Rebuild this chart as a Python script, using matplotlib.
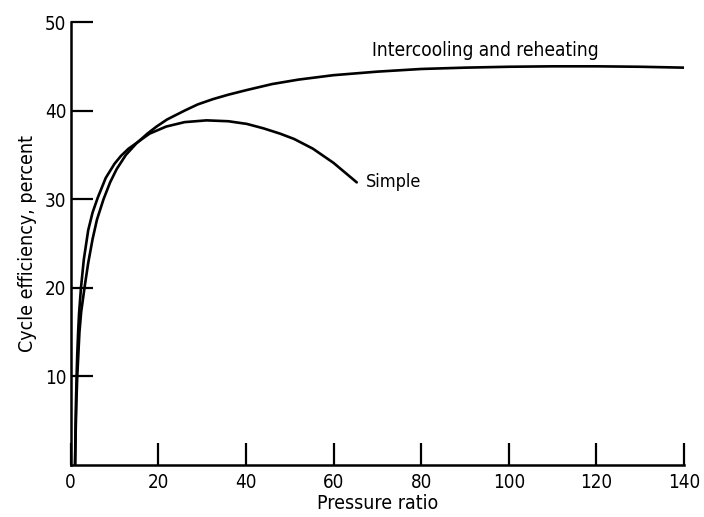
import matplotlib
matplotlib.use('Agg')
import matplotlib.pyplot as plt

# values
ic_ratio = [1, 1.15, 1.3, 1.5, 1.7, 2.0, 2.4, 3.3, 4, 5, 6, 7.5, 9, 10.5, 12.6, 15,
            17.5, 19.6, 22, 26, 29, 32.5, 36, 40, 46, 52, 60, 70, 80, 90, 100,
            110, 120, 130, 140]
ic_eff = [0, 4, 7, 10, 12, 15, 17.3, 20.5, 22.8, 25.5, 27.7, 30, 31.9, 33.4, 35,
          36.3, 37.4, 38.2, 39.0, 40.0, 40.7, 41.3, 41.8, 42.3, 43.0, 43.5, 44.0,
          44.4, 44.7, 44.85, 44.95, 45.0, 45.0, 44.95, 44.85]

simple_ratio = [1, 1.1, 1.2, 1.35, 1.5, 1.7, 1.9, 2.35, 3, 4, 5, 6.2, 8, 10, 11.5,
                13.2, 14.9, 18, 21.8, 26, 31, 36, 40.2, 44, 47.8, 51, 55.3, 60,
                65.3]
simple_eff = [0, 4, 7, 10, 12.5, 15, 17, 20, 23.2, 26.5, 28.5, 30.2, 32.4, 34.0,
              34.9, 35.7, 36.3, 37.4, 38.2, 38.7, 38.9, 38.8, 38.5, 38.0, 37.4,
              36.8, 35.7, 34.1, 31.9]

x_ticks = [0, 20, 40, 60, 80, 100, 120, 140]
y_ticks = [10, 20, 30, 40, 50]

plt.rcParams['font.family'] = ['DejaVu Sans']
plt.rcParams['font.stretch'] = 'condensed'

fig = plt.figure(figsize=(7.04, 5.17), dpi=100)
ax = fig.add_axes([0.1004, 0.1006, 0.8712, 0.8568])

ax.plot(ic_ratio, ic_eff, color='black', lw=1.9, solid_capstyle='round')
ax.plot(simple_ratio, simple_eff, color='black', lw=1.9, solid_capstyle='round')

ax.text(68.8, 46.8, 'Intercooling and reheating', fontsize=13.7,
        ha='left', va='center')
ax.text(67.4, 31.9, 'Simple', fontsize=13, ha='left', va='center')

ax.set_xlim(0, 140)
ax.set_ylim(0, 50)
ax.set_xticks(x_ticks)
ax.set_yticks(y_ticks)
ax.tick_params(axis='x', direction='in', length=16, width=1.6, pad=6,
               labelsize=13.5)
ax.tick_params(axis='y', direction='in', length=16, width=1.6, pad=3,
               labelsize=13.5)

for side in ['top', 'right']:
    ax.spines[side].set_visible(False)
for side in ['left', 'bottom']:
    ax.spines[side].set_linewidth(1.8)

ax.set_xlabel('Pressure ratio', fontsize=14, labelpad=1)
ax.set_ylabel('Cycle efficiency, percent', fontsize=14, labelpad=6)

fig.savefig('out.png', dpi=100)
